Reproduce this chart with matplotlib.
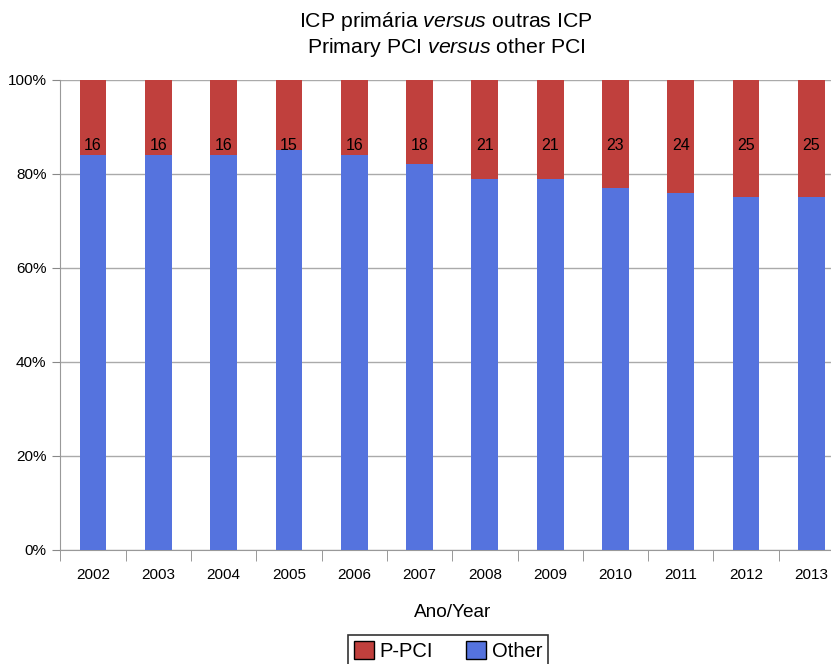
import numpy as np
import matplotlib.pyplot as plt
from matplotlib.patches import Patch

plt.rcParams['font.family'] = ['Liberation Sans', 'DejaVu Sans']
plt.rcParams['mathtext.fontset'] = 'custom'
plt.rcParams['mathtext.rm'] = 'Liberation Sans'
plt.rcParams['mathtext.it'] = 'Liberation Sans:italic'

years = ['2002', '2003', '2004', '2005', '2006', '2007', '2008', '2009', '2010', '2011', '2012', '2013']
ppci = [16, 16, 16, 15, 16, 18, 21, 21, 23, 24, 25, 25]
other = [100 - p for p in ppci]

red = '#C0403D'
blue = '#5573DE'

fig = plt.figure(figsize=(8.31, 6.64), dpi=100)
ax = fig.add_axes([0.0727, 0.1717, 0.943, 0.708])

x = np.arange(len(years))
ax.bar(x, other, width=0.41, color=blue, zorder=3)
ax.bar(x, ppci, width=0.41, bottom=other, color=red, zorder=3)
# labels all sit on one row near the top
for xi, p in zip(x, ppci):
    ax.text(xi, 86, str(p), ha='center', va='center', fontsize=11.5, zorder=4)

ax.set_xlim(-0.5, len(years) - 0.5)
ax.set_ylim(0, 100)
ax.set_yticks([0, 20, 40, 60, 80, 100])
ax.set_yticklabels(['0%', '20%', '40%', '60%', '80%', '100%'], fontsize=11)
ax.set_xticks(x)
ax.set_xticklabels(years, fontsize=11)
ax.set_xticks(np.arange(-0.5, len(years), 1), minor=True)
ax.tick_params(axis='x', which='major', length=0, pad=13)
ax.tick_params(axis='x', which='minor', length=8, color='#888888', direction='out')
ax.tick_params(axis='y', length=6, color='#888888', direction='out', pad=4)
ax.yaxis.grid(True, color='#aaaaaa', linewidth=1, zorder=0)
for s in ['top', 'right']:
    ax.spines[s].set_visible(False)
for s in ['left', 'bottom']:
    ax.spines[s].set_color('#999999')

ax.set_xlabel('Ano/Year', fontsize=13.7, labelpad=16)
fig.text(0.537, 0.967, r'ICP primária $\it{versus}$ outras ICP', ha='center', va='center', fontsize=15.3)
fig.text(0.537, 0.929, r'Primary PCI $\it{versus}$ other PCI', ha='center', va='center', fontsize=15.3)

handles = [Patch(facecolor=red, edgecolor='black', label='P-PCI'),
           Patch(facecolor=blue, edgecolor='black', label='Other')]
leg = fig.legend(handles=handles, loc='lower center', bbox_to_anchor=(0.539, -0.02), ncol=2,
                 fontsize=14.5, frameon=True, fancybox=False, edgecolor='black',
                 handlelength=1.0, handleheight=1.0, handletextpad=0.3, columnspacing=1.6,
                 borderpad=0.3)
leg.get_frame().set_linewidth(1.2)

fig.savefig('out.png', dpi=100)
